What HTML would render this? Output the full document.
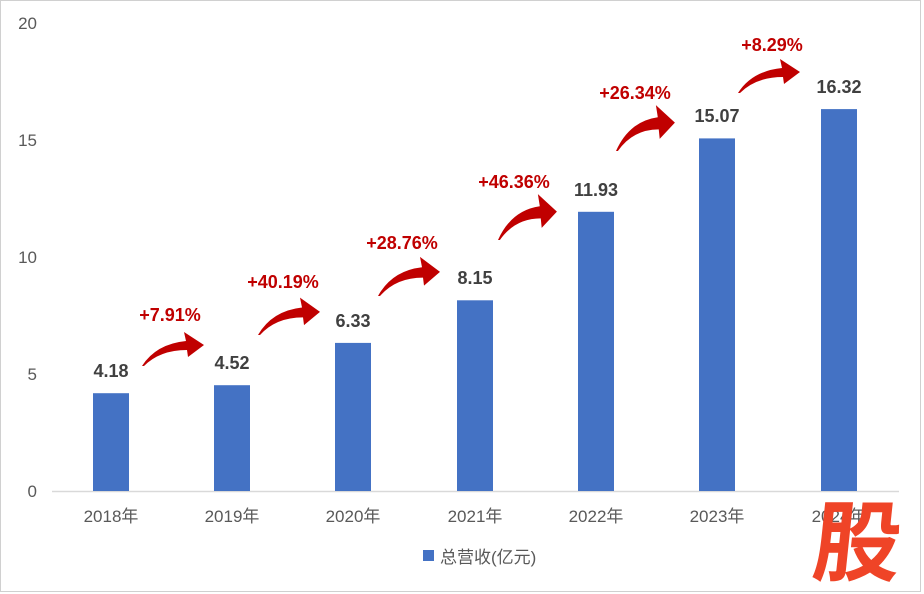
<!DOCTYPE html>
<html><head><meta charset="utf-8"><style>
body{margin:0;background:#fff}
svg{display:block}
text{font-family:"Liberation Sans","Noto Sans CJK SC",sans-serif}
</style></head><body>
<svg width="924" height="594" viewBox="0 0 924 594">
<rect x="0" y="0" width="924" height="594" fill="#fff"/>
<rect x="0.5" y="0.5" width="920" height="591" fill="none" stroke="#d0d0d0" stroke-width="1"/>
<g font-size="17" fill="#595959" text-anchor="end">
<text x="37" y="497">0</text><text x="37" y="380">5</text><text x="37" y="263">10</text><text x="37" y="146">15</text><text x="37" y="29">20</text>
</g>
<line x1="52" y1="491.5" x2="899" y2="491.5" stroke="#d9d9d9" stroke-width="1.5"/>
<g fill="#4472c4">
<rect x="93" y="393.2" width="36" height="97.8"/>
<rect x="214" y="385.2" width="36" height="105.8"/>
<rect x="335" y="342.9" width="36" height="148.1"/>
<rect x="457" y="300.3" width="36" height="190.7"/>
<rect x="578" y="211.8" width="36" height="279.2"/>
<rect x="699" y="138.4" width="36" height="352.6"/>
<rect x="821" y="109.1" width="36" height="381.9"/>
</g>
<g font-size="18" fill="#404040" font-weight="bold" text-anchor="middle">
<text x="111" y="377">4.18</text><text x="232" y="369">4.52</text><text x="353" y="327">6.33</text>
<text x="475" y="284">8.15</text><text x="596" y="196">11.93</text><text x="717" y="122">15.07</text><text x="839" y="93">16.32</text>
</g>
<g font-size="17" fill="#595959" text-anchor="middle">
<text x="111" y="522">2018年</text><text x="232" y="522">2019年</text><text x="353" y="522">2020年</text>
<text x="475" y="522">2021年</text><text x="596" y="522">2022年</text><text x="717" y="522">2023年</text><text x="839" y="522">2024年</text>
</g>
<g font-size="18" fill="#c00000" font-weight="bold" text-anchor="middle">
<text x="170" y="321">+7.91%</text><text x="283" y="288">+40.19%</text><text x="402" y="249">+28.76%</text>
<text x="514" y="188">+46.36%</text><text x="635" y="99">+26.34%</text><text x="772" y="51">+8.29%</text>
</g>
<defs><path id="arr" d="M0,0 Q14,-22 44,-25 L42,-34 L62,-21 L46,-9 L45,-16 Q18,-16 2,0 Z" fill="#c00000"/></defs>
<g>
<use href="#arr" transform="translate(142,366)"/>
<use href="#arr" transform="translate(258,335) scale(1,1.1)"/>
<use href="#arr" transform="translate(378,296) scale(1,1.15)"/>
<use href="#arr" transform="translate(498,240) scale(0.95,1.35)"/>
<use href="#arr" transform="translate(616,151) scale(0.95,1.35)"/>
<use href="#arr" transform="translate(738,93)"/>
</g>
<rect x="423" y="550" width="11" height="11" fill="#4472c4"/>
<text x="440" y="563" font-size="17" fill="#595959">总营收(亿元)</text>
<text x="858" y="574" font-size="88" font-weight="bold" fill="#ef4427" text-anchor="middle" font-family="Noto Sans CJK SC,sans-serif" transform="translate(858,540) skewX(-6) translate(-858,-540)">股</text>
</svg>
</body></html>
